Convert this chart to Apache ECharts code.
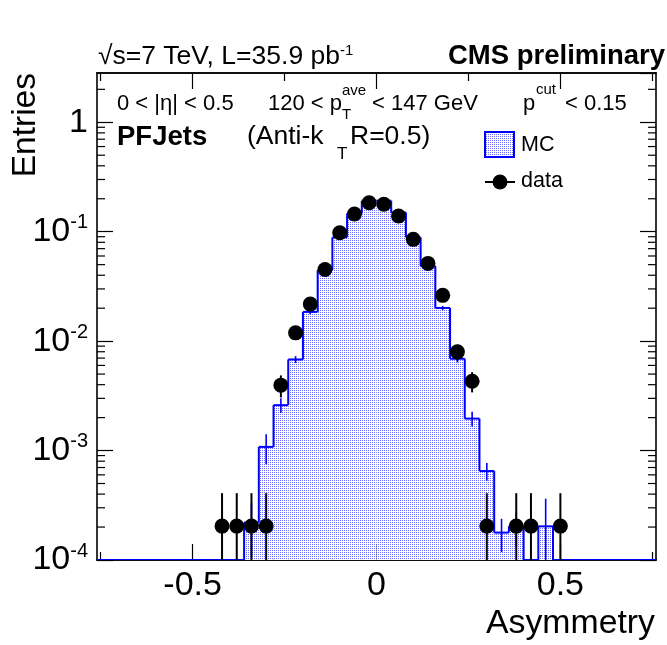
<!DOCTYPE html>
<html><head><meta charset="utf-8">
<script src="https://cdn.jsdelivr.net/npm/echarts@6/dist/echarts.min.js"></script>
<style>html,body{margin:0;padding:0;background:#fff}#c{width:667px;height:645px}</style>
</head><body><div id="c"></div>
<script>
// ---------------- data ----------------
const binWidth = 0.04;
const mcCenters = [-0.74,-0.70,-0.66,-0.62,-0.58,-0.54,-0.50,-0.46,-0.42,-0.38,
  -0.34,-0.30,-0.26,-0.22,-0.18,-0.14,-0.10,-0.06,-0.02,0.02,0.06,0.10,0.14,0.18,
  0.22,0.26,0.30,0.34,0.38,0.42,0.46,0.50,0.54,0.58,0.62,0.66,0.70,0.74];
const mcValues = [0,0,0,0,0,0,0,0,0,0,
  2.2e-4,1.08e-3,2.6e-3,6.8e-3,1.85e-2,4.46e-2,8.87e-2,0.147,0.192,0.192,0.150,8.87e-2,4.85e-2,2.01e-2,
  6.9e-3,1.96e-3,6.5e-4,1.78e-4,2.03e-4,0,2.03e-4,0,0,0,0,0,0,0];
const mcErrors = [0,0,0,0,0,0,0,0,0,0,
  1.1e-4,3.3e-4,4e-4,5e-4,9e-4,1.4e-3,2e-3,2.6e-3,3e-3,3e-3,2.6e-3,2e-3,1.4e-3,9e-4,
  5e-4,3e-4,1.2e-4,6e-5,7e-5,0,1.6e-4,0,0,0,0,0,0,0];
const dataCenters = [-0.42,-0.38,-0.34,-0.30,-0.26,-0.22,-0.18,-0.14,-0.10,-0.06,-0.02,
  0.02,0.06,0.10,0.14,0.18,0.22,0.26,0.30,0.38,0.42,0.50];
const dataValues = [2.04e-4,2.04e-4,2.04e-4,2.04e-4,3.96e-3,1.19e-2,2.18e-2,4.52e-2,9.78e-2,0.145,0.184,
  0.178,0.139,8.51e-2,5.13e-2,2.62e-2,7.98e-3,4.3e-3,2.04e-4,2.04e-4,2.04e-4,2.04e-4];
const dataErrors = [2.04e-4,2.04e-4,2.04e-4,2.04e-4,9e-4,1.5e-3,2.1e-3,3e-3,4.5e-3,5.4e-3,6e-3,
  6e-3,5.3e-3,4.2e-3,3.2e-3,2.3e-3,1.3e-3,9e-4,2.04e-4,2.04e-4,2.04e-4,2.04e-4];
const xMajorTicks = [-0.5, 0, 0.5];
const xMinorTicks = [-0.75, -0.25, 0.25, 0.75];
const yMinorTicks = [2e-4,3e-4,4e-4,5e-4,6e-4,7e-4,8e-4,9e-4,
  2e-3,3e-3,4e-3,5e-3,6e-3,7e-3,8e-3,9e-3,
  2e-2,3e-2,4e-2,5e-2,6e-2,7e-2,8e-2,9e-2,
  0.2,0.3,0.4,0.5,0.6,0.7,0.8,0.9,2];
const X_MIN = -0.76, X_MAX = 0.76, Y_MIN = 1e-4, Y_MAX = 2.82;

// ---------------- style helpers ----------------
const FONT = '"Liberation Sans", Arial, Helvetica, sans-serif';
const pat = document.createElement('canvas');
pat.width = 2; pat.height = 2;
(function(){ const g = pat.getContext('2d'); g.fillStyle = '#ffffff'; g.fillRect(0,0,2,2);
  g.fillStyle = '#6a6aff'; g.fillRect(0,0,1,1); })();
const patternFill = {image: pat, repeat: 'repeat'};
const BLUE = '#0000ff';

const chart = echarts.init(document.getElementById('c'), null, {renderer: 'canvas'});

function yLabel(v){
  const e = Math.round(Math.log10(v));
  if (e === 0) return '{n|1}';
  if (e === 1) return '{n|10}';
  return '{n|10}{s|' + e + '}';
}

function mcRender(params, api){
  const i = params.dataIndex;
  const c = api.value(0), v = mcValues[i], e = mcErrors[i];
  const yb = api.coord([c, Y_MIN])[1];
  const xl = api.coord([c - binWidth/2, Y_MIN])[0];
  const xr = api.coord([c + binWidth/2, Y_MIN])[0];
  const xc = api.coord([c, Y_MIN])[0];
  const yv = v > 0 ? api.coord([c, v])[1] : yb;
  const pv = i > 0 ? mcValues[i-1] : 0;
  const yp = pv > 0 ? api.coord([c, pv])[1] : yb;
  const ls = {stroke: BLUE, lineWidth: 2};
  const ch = [];
  if (v > 0) ch.push({type:'rect', shape:{x:xl, y:yv, width:xr-xl, height:yb-yv}, style:{fill: patternFill}});
  if (v > 0 && e > 0) {
    const yt = api.coord([c, v + e])[1];
    const ylo = (v - e) > Y_MIN ? api.coord([c, v - e])[1] : yb;
    ch.push({type:'line', shape:{x1:xc, y1:yt, x2:xc, y2:ylo}, style:{stroke: BLUE, lineWidth: 1.6}});
  }
  ch.push({type:'line', shape:{x1:xl, y1:yv, x2:xr, y2:yv}, style: ls});
  ch.push({type:'line', shape:{x1:xl, y1:yp, x2:xl, y2:yv}, style: ls});
  if (i === mcValues.length - 1) ch.push({type:'line', shape:{x1:xr, y1:yv, x2:xr, y2:yb}, style: ls});
  return {type:'group', children: ch};
}

function errRender(params, api){
  const i = params.dataIndex;
  const c = api.value(0), v = dataValues[i], e = dataErrors[i];
  const xc = api.coord([c, v])[0];
  const yb = api.coord([c, Y_MIN])[1];
  const yt = api.coord([c, v + e])[1];
  const ylo = (v - e) > Y_MIN ? api.coord([c, v - e])[1] : yb;
  return {type:'line', shape:{x1:xc, y1:yt, x2:xc, y2:ylo}, style:{stroke:'#000', lineWidth:2}};
}

function minorTickRender(params, api){
  const v = api.value(1);
  const pL = api.coord([X_MIN, v]), pR = api.coord([X_MAX, v]);
  const st = {stroke:'#000', lineWidth:1.2};
  return {type:'group', children:[
    {type:'line', shape:{x1:pL[0], y1:pL[1], x2:pL[0]+8, y2:pL[1]}, style: st},
    {type:'line', shape:{x1:pR[0], y1:pR[1], x2:pR[0]-8, y2:pR[1]}, style: st}
  ]};
}

const frameLine = {show:true, onZero:false, lineStyle:{color:'#000', width:1.6}};
function xAx(pos, ticks, len, labels){
  return {type:'value', min:X_MIN, max:X_MAX, position:pos,
    axisLine: frameLine,
    axisTick:{show:true, inside:true, length:len, customValues:ticks, lineStyle:{color:'#000', width:1.2}},
    axisLabel: labels ? {show:true, customValues:ticks, fontSize:34, fontFamily:FONT, color:'#000', margin:9,
      formatter: v => (v === 0 ? '0' : String(v))} : {show:false},
    splitLine:{show:false}};
}
function yAx(pos, labels){
  return {type:'log', logBase:10, min:Y_MIN, max:Y_MAX, position:pos,
    axisLine: frameLine,
    axisTick:{show:true, inside:true, length:16, lineStyle:{color:'#000', width:1.2}},
    axisLabel: labels ? {show:true, showMaxLabel:false, margin:9, formatter: yLabel,
      rich:{n:{fontSize:34, fontFamily:FONT, color:'#000'}, s:{fontSize:20, fontFamily:FONT, color:'#000', verticalAlign:'top', padding:[0,0,18,0]}}} : {show:false},
    splitLine:{show:false}};
}

const txt = (x, y, text, size) => ({type:'text', left:x, top:y,
  style:{text:text, fontSize:size, fontFamily:FONT, fill:'#000'}});

chart.setOption({
  animation:false,
  backgroundColor:'#fff',
  grid:{left:97, right:11, top:73, bottom:85, containLabel:false},
  xAxis:[xAx('bottom', xMajorTicks, 16, true), xAx('bottom', xMinorTicks, 8, false),
         xAx('top', xMajorTicks, 16, false), xAx('top', xMinorTicks, 8, false)],
  yAxis:[yAx('left', true), yAx('right', false)],
  series:[
    {type:'custom', name:'MC', renderItem: mcRender, clip:true, z:2,
      data: mcCenters.map((c, i) => [c, mcValues[i] > 0 ? mcValues[i] : Y_MIN])},
    {type:'custom', name:'data-err', renderItem: errRender, clip:true, z:3,
      data: dataCenters.map((c, i) => [c, dataValues[i]])},
    {type:'scatter', name:'data', symbol:'circle', symbolSize:15, itemStyle:{color:'#000', opacity:1}, z:4,
      data: dataCenters.map((c, i) => [c, dataValues[i]])},
    {type:'custom', name:'minor', renderItem: minorTickRender, z:5,
      data: yMinorTicks.map(v => [0, v])}
  ],
  graphic:[
    // header
    {type:'text', left:98, top:43, style:{text:'√s=7 TeV, L=35.9 pb{s|-1}', fontSize:26.5, fontFamily:FONT, fill:'#000',
      rich:{s:{fontSize:15, fontFamily:FONT, verticalAlign:'top', padding:[0,0,13,0]}}}},
    {type:'text', right:2, top:42, style:{text:'CMS preliminary', fontSize:27.5, fontWeight:'bold', fontFamily:FONT, fill:'#000'}},
    // line 2
    txt(117, 93, '0 < |η| < 0.5', 22),
    txt(268, 93, '120 < p', 22),
    txt(342, 83, 'ave', 15),
    txt(342, 107, 'T', 15),
    txt(372, 93, '< 147 GeV', 22),
    txt(523, 93, 'p', 22),
    txt(536, 82, 'cut', 15),
    txt(565, 93, '< 0.15', 22),
    // line 3
    {type:'text', left:117, top:123, style:{text:'PFJets', fontSize:27.5, fontWeight:'bold', fontFamily:FONT, fill:'#000'}},
    txt(247, 123, '(Anti-k', 26.5),
    txt(337, 146, 'T', 17),
    txt(350, 123, 'R=0.5)', 26.5),
    // legend
    {type:'rect', shape:{x:485, y:132, width:29, height:25}, style:{fill: patternFill, stroke: BLUE, lineWidth:2}},
    txt(521, 134, 'MC', 21.5),
    {type:'line', shape:{x1:485, y1:182, x2:515, y2:182}, style:{stroke:'#000', lineWidth:2}},
    {type:'circle', shape:{cx:500, cy:182, r:7.5}, style:{fill:'#000'}},
    txt(521, 170, 'data', 21.5),
    // axis titles
    {type:'text', right:12, top:607, style:{text:'Asymmetry', fontSize:33.8, fontFamily:FONT, fill:'#000'}},
    {type:'text', x:26, y:73, rotation:Math.PI/2, style:{text:'Entries', fontSize:33.5, fontFamily:FONT, fill:'#000',
      textAlign:'right', textVerticalAlign:'middle'}}
  ]
});
</script></body></html>
